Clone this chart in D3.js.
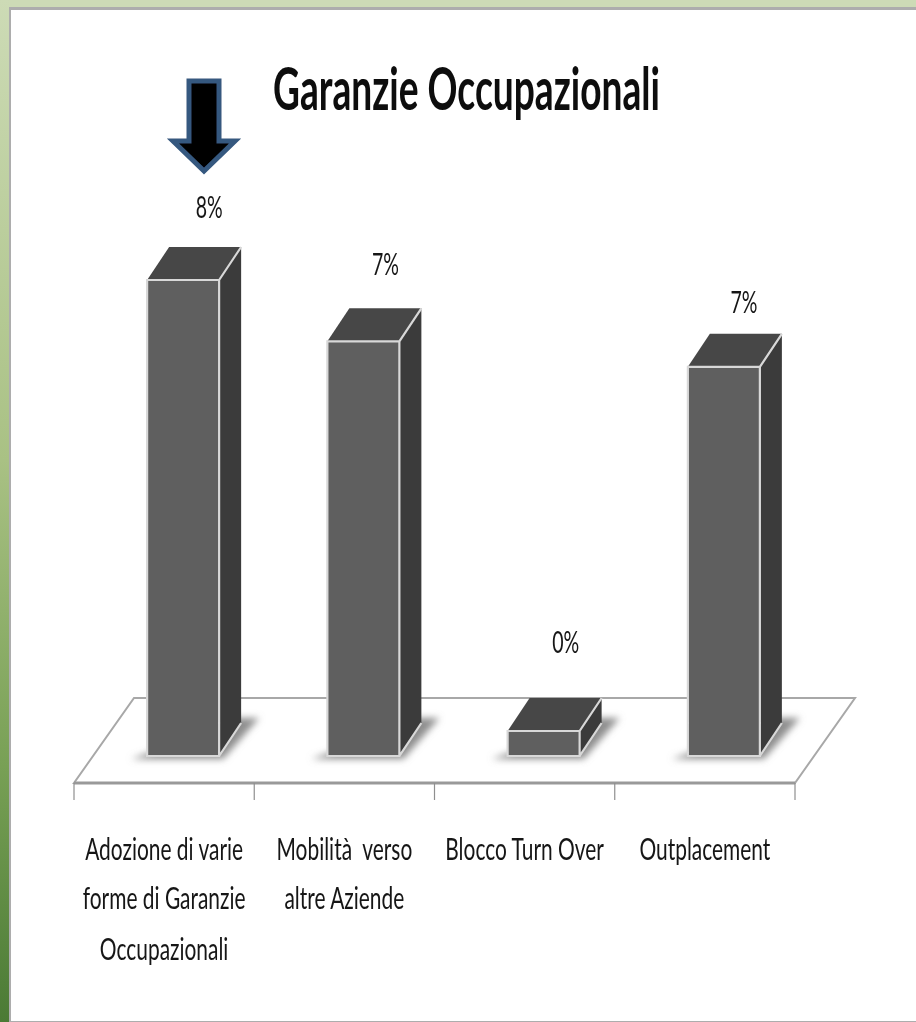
<!DOCTYPE html>
<html><head><meta charset="utf-8">
<script src="https://cdn.jsdelivr.net/npm/d3@7"></script>
<style>html,body{margin:0;padding:0;background:#fff;overflow:hidden}svg{display:block}</style>
</head><body><svg id="c" width="916" height="1022"></svg>
<script>
const titleText = "Garanzie Occupazionali";
const categories = ["Adozione di varie","Mobilità  verso","Blocco Turn Over","Outplacement"];
const categoryLines = [
  ["Adozione di varie","forme di Garanzie","Occupazionali"],
  ["Mobilità  verso","altre Aziende"],
  ["Blocco Turn Over"],
  ["Outplacement"]
];
const values = [8.0, 6.97, 0.42, 6.54];
const valueLabels = ["8%","7%","0%","7%"];

// layout (kept apart from data)
const labelNudgeX = [26, 22, 22, 20];
const labelBaseY = [218, 275, 653, 313];
const W = 916, H = 1022, FONT = "Lato,'Liberation Sans Narrow',Arial,sans-serif";
const svg = d3.select("#c");
const defs = svg.append("defs");

const g1 = defs.append("linearGradient").attr("id","side").attr("x1",0).attr("y1",0).attr("x2",0).attr("y2",1);
g1.append("stop").attr("offset",0).attr("stop-color","#cddbb6");
g1.append("stop").attr("offset",0.45).attr("stop-color","#a9c184");
g1.append("stop").attr("offset",0.75).attr("stop-color","#78a055");
g1.append("stop").attr("offset",1).attr("stop-color","#4b7a35");
defs.append("filter").attr("id","shadow").attr("x","-30%").attr("y","-30%").attr("width","160%").attr("height","160%")
  .append("feGaussianBlur").attr("stdDeviation",3.5);
defs.append("filter").attr("id","soft").attr("x","-5%").attr("y","-5%").attr("width","110%").attr("height","110%")
  .append("feGaussianBlur").attr("stdDeviation",0.45);

// slide frame
svg.append("rect").attr("width",W).attr("height",H).attr("fill","#cddbb6");
svg.append("rect").attr("x",0).attr("y",0).attr("width",9).attr("height",H).attr("fill","url(#side)");
svg.append("rect").attr("x",9).attr("y",7).attr("width",W-9).attr("height",H-7).attr("fill","#adadad");
svg.append("rect").attr("x",11).attr("y",10).attr("width",W-11).attr("height",H-11).attr("fill","#fff");

const root = svg.append("g").attr("filter","url(#soft)");

// scales
const x = d3.scaleBand().domain(categories).range([74,795]);
const y = d3.scaleLinear().domain([0,8]).range([756,280]);
const floorY = 783, floorBack = 698, floorDx = 60;
const barW = 72, depthX = 22, depthY = 33;
const frontX = c => x(c) + x.bandwidth()/2 + floorDx/2 - (barW+depthX)/2;

// floor
root.append("polygon")
  .attr("points",[[x.range()[0],floorY],[x.range()[1],floorY],[x.range()[1]+floorDx,floorBack],[x.range()[0]+floorDx,floorBack]].join(" "))
  .attr("fill","#fff").attr("stroke","#a8a8a8").attr("stroke-width",2);
root.append("line").attr("x1",74).attr("x2",795).attr("y1",floorY).attr("y2",floorY).attr("stroke","#999").attr("stroke-width",3);

// ticks
const tickXs = categories.map(c=>x(c)).concat([x.range()[1]]);
root.selectAll("line.tick").data(tickXs).join("line").attr("class","tick")
  .attr("x1",d=>d).attr("x2",d=>d).attr("y1",floorY).attr("y2",floorY+17)
  .attr("stroke","#8f8f8f").attr("stroke-width",1.2);

// bars
categories.forEach((c,i)=>{
  const fx = frontX(c), top = y(values[i]), base = y(0);
  const g = root.append("g");
  g.append("polygon")
    .attr("points",[[fx-16,base+3],[fx+barW+4,base+3],[fx+barW+40,base-38],[fx+barW+16,base-38],[fx+10,base-6]].join(" "))
    .attr("fill","#8e8e8e").attr("filter","url(#shadow)");
  g.append("polygon").attr("points",[[fx,top],[fx+depthX,top-depthY],[fx+barW+depthX,top-depthY],[fx+barW,top]].join(" "))
    .attr("fill","#464646");
  g.append("polygon").attr("points",[[fx+barW,top],[fx+barW+depthX,top-depthY],[fx+barW+depthX,base-depthY],[fx+barW,base]].join(" "))
    .attr("fill","#3b3b3b");
  g.append("rect").attr("x",fx).attr("y",top).attr("width",barW).attr("height",base-top).attr("fill","#5f5f5f");
  g.append("path").attr("d",`M${fx},${base}V${top}H${fx+barW}V${base}Z M${fx+barW},${top}L${fx+barW+depthX},${top-depthY} M${fx+barW},${base}L${fx+barW+depthX},${base-depthY}`)
    .attr("fill","none").attr("stroke","#d8d8d8").attr("stroke-width",2.2);
});

// squeezed text helper: horizontal factor is measured so a sample string takes the wanted width
function fit(sample,size,weight,target){
  const t = root.append("text").attr("font-family",FONT).attr("font-size",size).attr("font-weight",weight).text(sample);
  const w = t.node().getComputedTextLength(); t.remove();
  return target/w;
}
function txt(s,cx,by,size,sx,weight,fill){
  root.append("text").attr("transform",`translate(${cx},${by}) scale(${sx},1)`)
    .attr("text-anchor","middle").attr("font-family",FONT).attr("font-size",size)
    .attr("font-weight",weight||400).attr("fill",fill||"#151515").style("white-space","pre").text(s);
}
txt(titleText,466.5,110,60,fit(titleText,60,700,387),700,"#0c0c0c");
const catSx = fit(categoryLines[0][0],31,400,158);
const valSx = fit(valueLabels[0],31,400,27);
categories.forEach((c,i)=>{
  const cx = x(c)+x.bandwidth()/2;
  categoryLines[i].forEach((l,k)=>txt(l,cx,[860,909,960][k],31,catSx));
  txt(valueLabels[i],frontX(c)+barW/2+labelNudgeX[i],labelBaseY[i],31,valSx);
});

// arrow pointing at the first bar's label
const ax = 204;
const arrow = [[ax-15,81],[ax+15,81],[ax+15,141],[ax+31,141],[ax,171],[ax-31,141],[ax-15,141]];
root.append("polygon").attr("points",arrow.join(" ")).attr("fill","#000").attr("stroke","#36587f").attr("stroke-width",5);
</script></body></html>
